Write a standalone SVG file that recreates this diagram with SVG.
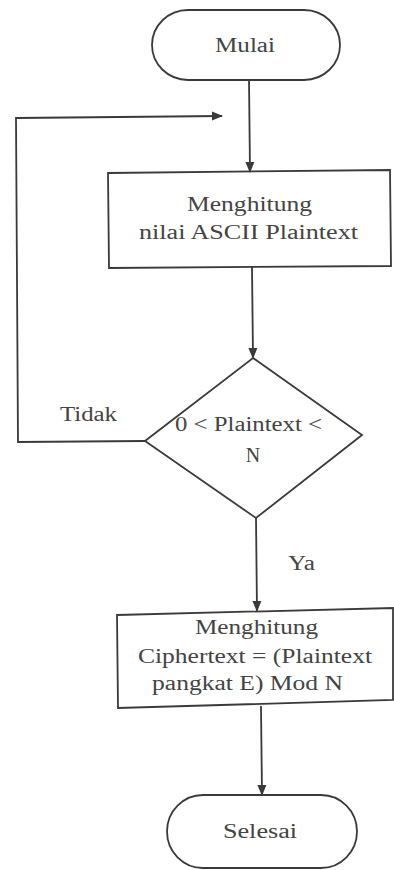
<svg xmlns="http://www.w3.org/2000/svg" width="394" height="870" viewBox="0 0 394 870" font-family="Liberation Serif, DejaVu Serif, serif">
  <style>
    .shape { fill: none; stroke: #3a3a3a; stroke-width: 1.8; }
    .conn { fill: none; stroke: #3a3a3a; stroke-width: 1.8; }
    .lbl { font-size: 20px; fill: #444; }
  </style>
  <defs>
    <marker id="arrow" markerWidth="11" markerHeight="10" refX="10" refY="5" orient="auto" markerUnits="userSpaceOnUse">
      <path d="M0,0.5 L11,5 L0,9.5 Z" fill="#3a3a3a"/>
    </marker>
  </defs>
  <rect width="394" height="870" fill="#fff"/>

  <!-- connectors -->
  <g id="connectors">
    <line class="conn" x1="249" y1="80" x2="250" y2="172" marker-end="url(#arrow)"/>
    <line class="conn" x1="252" y1="267" x2="253" y2="358" marker-end="url(#arrow)"/>
    <line class="conn" x1="256" y1="518" x2="257" y2="611" marker-end="url(#arrow)"/>
    <line class="conn" x1="261" y1="706" x2="262" y2="795" marker-end="url(#arrow)"/>
    <polyline class="conn" points="145,441 18,442 16,118 222,116" marker-end="url(#arrow)"/>
    <text class="lbl" x="60" y="421" textLength="57" lengthAdjust="spacingAndGlyphs">Tidak</text>
    <text class="lbl" x="288" y="570" textLength="27" lengthAdjust="spacingAndGlyphs">Ya</text>
  </g>

  <g id="start">
    <path class="shape" d="M188,10 L304,10 A36,35 0 0 1 304,80 L188,80 A36,35 0 0 1 188,10 Z"/>
    <text class="lbl" x="215" y="52" textLength="60" lengthAdjust="spacingAndGlyphs">Mulai</text>
  </g>

  <g id="ascii">
    <polygon class="shape" points="108,173 390,170 391,266 109,268"/>
    <text class="lbl" x="187" y="211" textLength="125" lengthAdjust="spacingAndGlyphs">Menghitung</text>
    <text class="lbl" x="139" y="239" textLength="219" lengthAdjust="spacingAndGlyphs">nilai ASCII Plaintext</text>
  </g>

  <g id="check">
    <polygon class="shape" points="253,358 362,435 256,518 145,441"/>
    <text class="lbl" x="175" y="431" textLength="147" lengthAdjust="spacingAndGlyphs">0 &lt; Plaintext &lt;</text>
    <text class="lbl" x="253" y="462" text-anchor="middle">N</text>
  </g>

  <g id="encrypt">
    <polygon class="shape" points="117,615 393,608 393,700 118,708"/>
    <text class="lbl" x="195" y="634" textLength="123" lengthAdjust="spacingAndGlyphs">Menghitung</text>
    <text class="lbl" x="138" y="663" textLength="234" lengthAdjust="spacingAndGlyphs">Ciphertext = (Plaintext</text>
    <text class="lbl" x="152" y="690" textLength="191" lengthAdjust="spacingAndGlyphs">pangkat E) Mod N</text>
  </g>

  <g id="end">
    <path class="shape" d="M203,795 L321,795 A36,36.5 0 0 1 321,868 L203,868 A36,36.5 0 0 1 203,795 Z"/>
    <text class="lbl" x="223" y="838" textLength="74" lengthAdjust="spacingAndGlyphs">Selesai</text>
  </g>
</svg>
